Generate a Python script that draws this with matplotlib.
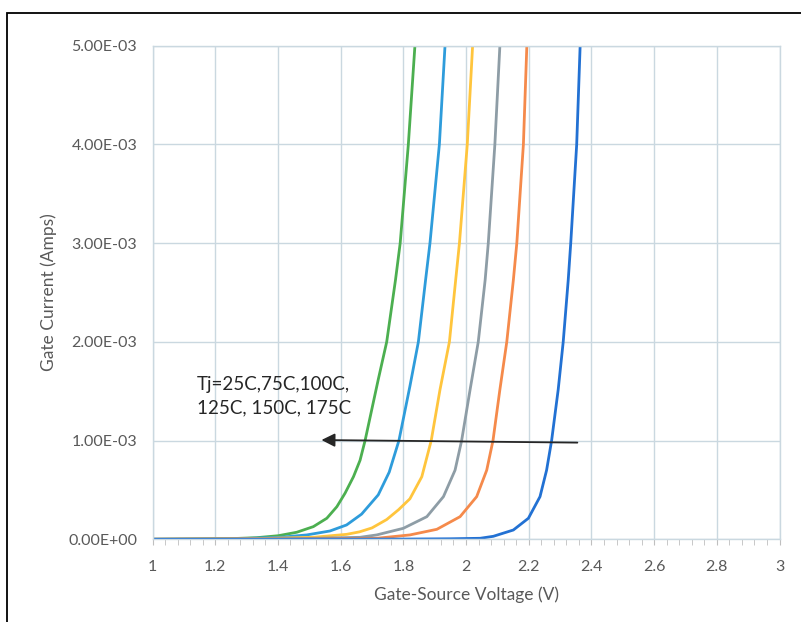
import matplotlib as mpl
import matplotlib.pyplot as plt
from matplotlib.patches import Rectangle
from matplotlib.ticker import FuncFormatter, MultipleLocator

mpl.rcParams["font.family"] = ["Lato", "DejaVu Sans"]

# gate current curves (V in volts, I in mA)
v_green = [1.00, 1.10, 1.247, 1.332, 1.401, 1.46, 1.513, 1.556, 1.588, 1.614, 1.641, 1.662, 1.678,
           1.720, 1.747, 1.775, 1.790, 1.816, 1.837]
i_green = [0.0, 0.002, 0.006, 0.016, 0.036, 0.071, 0.128, 0.213, 0.33, 0.466, 0.634, 0.80, 1.0,
           1.618, 2.0, 2.627, 3.0, 4.0, 5.0]

v_lblue = [1.00, 1.247, 1.407, 1.492, 1.566, 1.619, 1.667, 1.720, 1.755, 1.786, 1.821, 1.848,
           1.871, 1.885, 1.915, 1.933]
i_lblue = [0.0, 0.003, 0.02, 0.044, 0.084, 0.145, 0.255, 0.45, 0.68, 1.0, 1.55, 2.0,
           2.627, 3.0, 4.0, 5.0]

v_yellow = [1.00, 1.30, 1.513, 1.619, 1.66, 1.70, 1.747, 1.785, 1.821, 1.859, 1.889, 1.917,
            1.947, 1.967, 1.979, 2.004, 2.021]
i_yellow = [0.0, 0.005, 0.02, 0.05, 0.075, 0.115, 0.20, 0.30, 0.41, 0.634, 1.0, 1.516,
            2.0, 2.627, 3.0, 4.0, 5.0]

v_gray = [1.00, 1.45, 1.662, 1.715, 1.80, 1.875, 1.928, 1.965, 1.986, 2.013, 2.039, 2.061,
          2.071, 2.092, 2.108]
i_gray = [0.0, 0.005, 0.02, 0.044, 0.111, 0.229, 0.432, 0.70, 1.0, 1.516, 2.0, 2.627,
          3.0, 4.0, 5.0]

v_orange = [1.00, 1.55, 1.715, 1.821, 1.907, 1.981, 2.034, 2.066, 2.086, 2.108, 2.130, 2.151,
            2.162, 2.183, 2.194]
i_orange = [0.0, 0.004, 0.01, 0.044, 0.101, 0.229, 0.432, 0.70, 1.0, 1.516, 2.0, 2.627,
            3.0, 4.0, 5.0]

v_dblue = [1.00, 1.80, 1.95, 2.045, 2.087, 2.151, 2.199, 2.236, 2.257, 2.273, 2.294, 2.310,
           2.326, 2.334, 2.353, 2.364]
i_dblue = [0.0, 0.002, 0.005, 0.01, 0.03, 0.094, 0.213, 0.432, 0.70, 1.0, 1.516, 2.0,
           2.627, 3.0, 4.0, 5.0]

series = [
    (v_green, i_green, "#4CAF50"),
    (v_lblue, i_lblue, "#2E9CDB"),
    (v_yellow, i_yellow, "#FFC53D"),
    (v_gray, i_gray, "#8E9DA6"),
    (v_orange, i_orange, "#F58A4B"),
    (v_dblue, i_dblue, "#2271D3"),
]

grid_c = "#CAD8E0"
text_c = "#595959"

fig = plt.figure(figsize=(8.01, 6.22), dpi=100)
ax = fig.add_axes([0.1904, 0.1330, 0.7828, 0.7934])

for v, i, c in series:
    ax.plot(v, [x * 1e-3 for x in i], color=c, lw=2.0, solid_joinstyle="round")

ax.set_xlim(1, 3)
ax.set_ylim(0, 5e-3)
ax.xaxis.set_major_locator(MultipleLocator(0.2))
ax.xaxis.set_minor_locator(MultipleLocator(0.04))
ax.yaxis.set_major_locator(MultipleLocator(1e-3))
ax.xaxis.set_major_formatter(FuncFormatter(lambda v, p: "%g" % round(v, 2)))
ax.yaxis.set_major_formatter(FuncFormatter(lambda v, p: "%.2E" % v))

ax.grid(True, which="major", color=grid_c, lw=1.0)
for s in ax.spines.values():
    s.set_color(grid_c)
    s.set_linewidth(1.0)
ax.set_axisbelow(True)

ax.tick_params(axis="x", which="both", direction="out", length=4, color="#BFBFBF",
               labelsize=11.5, labelcolor=text_c, pad=11)
ax.tick_params(axis="y", length=0, labelsize=11.5, labelcolor=text_c, pad=11)

ax.set_xlabel("Gate-Source Voltage (V)", fontsize=12.5, color=text_c, labelpad=9)
ax.set_ylabel("Gate Current (Amps)", fontsize=12.5, color=text_c, labelpad=8)

ax.annotate("", xy=(1.530, 1.006e-3), xytext=(2.364, 0.979e-3),
            arrowprops=dict(arrowstyle="-|>", color="#262626", lw=1.3, mutation_scale=20))
ax.text(1.142, 1.45e-3, "Tj=25C,75C,100C,\n125C, 150C, 175C", fontsize=13.5,
        color="#262626", va="center", ha="left", linespacing=1.5)

# outer frame of the picture
fig.patches.append(Rectangle((7 / 801, -0.1), 1.2, 1 - 12.5 / 622 + 0.1,
                             transform=fig.transFigure, fill=False, ec="black", lw=1.3))

plt.savefig("out.png", dpi=100)
